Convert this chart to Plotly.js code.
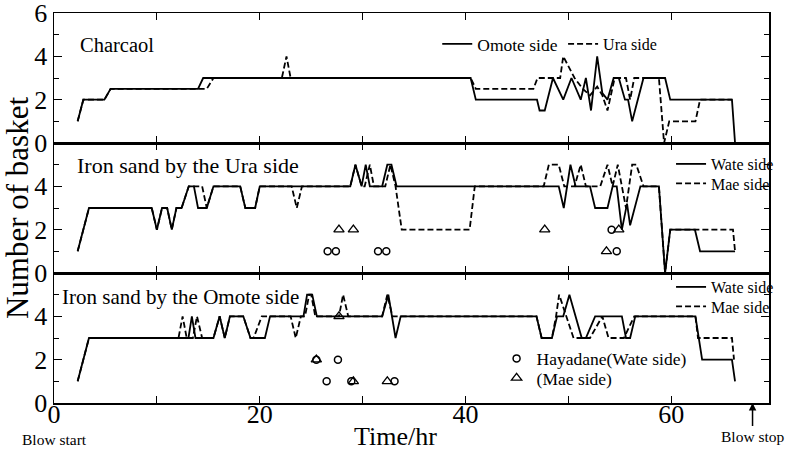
<!DOCTYPE html>
<html>
<head>
<meta charset="utf-8">
<script src="https://cdn.plot.ly/plotly-3.0.1.min.js"></script>
<style>html,body{margin:0;padding:0;background:#fff}#chart{width:800px;height:450px}</style>
</head>
<body>
<div id="chart"></div>
<script>
// ---------- Charcoal panel (top) ----------
const charOmoteX = [2.3, 2.85, 4.9, 5.5, 14.0, 14.5, 40.5, 41.0, 46.95, 47.2, 47.7, 48.5, 49.5, 50.3, 51.2, 51.7, 52.2, 52.8, 53.3, 53.8, 54.4, 54.9, 55.5, 55.8, 56.2, 57.3, 59.4, 59.9, 65.9, 66.2];
const charOmoteY = [1, 2, 2, 2.5, 2.5, 3, 3, 2, 2, 1.5, 1.5, 3, 2, 3, 2, 3, 1.5, 4, 2.3, 2, 3, 3, 2, 2, 1, 3, 3, 2, 2, 0];
const charUraX = [2.3, 2.85, 4.9, 5.5, 14.85, 15.5, 22.15, 22.6, 23.0, 40.5, 41.0, 46.6, 47.0, 49.2, 49.5, 50.6, 51.4, 52.1, 52.8, 53.3, 53.8, 54.5, 55.6, 56.0, 56.4, 58.8, 59.3, 59.8, 62.35, 62.8, 65.9];
const charUraY = [1, 2, 2, 2.5, 2.5, 3, 3, 4, 3, 3, 2.5, 2.5, 3, 3, 4, 3, 2.5, 2.2, 2.6, 2.2, 1.5, 3, 3, 2, 3, 3, 0, 1, 1, 2, 2];

// ---------- Iron sand by the Ura side (middle) ----------
const uraWateX = [2.3, 3.4, 9.5, 10.0, 10.5, 11.0, 11.45, 11.9, 12.4, 13.1, 13.6, 14.0, 14.85, 15.5, 18.1, 18.6, 19.55, 20.0, 28.8, 29.3, 29.9, 30.3, 30.7, 31.9, 32.4, 32.8, 33.3, 49.06, 49.55, 50.2, 50.7, 52.1, 52.6, 53.8, 54.3, 54.7, 55.2, 55.7, 56.0, 57.0, 58.8, 59.4, 59.9, 62.3, 62.8, 66.2];
const uraWateY = [1, 3, 3, 2, 3, 3, 2, 3, 3, 4, 4, 3, 3, 4, 4, 3, 3, 4, 4, 5, 4, 5, 4, 4, 5, 5, 4, 4, 3, 5, 4, 4, 3, 3, 4, 4, 2, 3.2, 2.2, 4, 4, 0, 2, 2, 1, 1];
const uraMaeX = [2.3, 3.4, 9.5, 10.0, 10.5, 11.0, 11.45, 11.9, 12.4, 13.1, 14.4, 14.85, 15.5, 18.1, 18.6, 19.55, 20.0, 23.1, 23.6, 24.1, 28.8, 29.3, 29.9, 30.2, 30.7, 31.1, 32.2, 32.7, 33.2, 33.8, 40.4, 40.9, 47.6, 48.1, 49.06, 49.6, 50.6, 51.2, 51.7, 53.1, 53.8, 54.3, 54.8, 55.6, 56.2, 56.6, 57.3, 58.8, 59.4, 59.9, 66.0, 66.2];
const uraMaeY = [1, 3, 3, 2, 3, 3, 2, 3, 3, 4, 4, 3, 4, 4, 3, 3, 4, 4, 3, 4, 4, 5, 4, 4, 5, 4, 4, 5, 4, 2, 2, 4, 4, 5, 5, 4, 4, 5, 4, 4, 5, 4, 5, 3, 5, 5, 4, 4, 0, 2, 2, 1];
const uraHayaWateX = [26.6, 27.4, 31.5, 32.3, 54.2, 54.7];
const uraHayaWateY = [1, 1, 1, 1, 2, 1];
const uraHayaMaeX = [27.7, 29.1, 47.7, 54.9, 53.7];
const uraHayaMaeY = [2, 2, 2, 2, 1];

// ---------- Iron sand by the Omote side (bottom) ----------
const omoWateX = [2.3, 3.4, 13.07, 13.4, 13.75, 15.5, 16.1, 16.6, 17.1, 18.4, 19.1, 20.5, 21.0, 24.25, 24.6, 25.1, 25.55, 31.9, 32.5, 33.2, 33.7, 46.9, 47.4, 48.4, 48.9, 49.5, 50.1, 51.3, 51.7, 52.6, 55.2, 55.6, 56.0, 56.5, 62.35, 63.0, 65.9, 66.2];
const omoWateY = [1, 3, 3, 4, 3, 3, 4, 3, 4, 4, 3, 3, 4, 4, 5, 5, 4, 4, 5, 3, 4, 4, 3, 3, 4, 4, 5, 3, 3, 4, 4, 3, 3, 4, 4, 2, 2, 1];
const omoMaeX = [2.3, 3.4, 12.1, 12.5, 12.9, 13.5, 13.9, 14.4, 15.5, 16.1, 16.6, 17.1, 18.4, 19.1, 19.4, 20.2, 23.0, 23.5, 24.0, 24.4, 24.8, 25.0, 25.4, 27.7, 28.1, 28.6, 31.9, 32.4, 32.9, 46.9, 47.4, 48.4, 48.8, 49.1, 50.5, 52.1, 53.3, 53.9, 55.4, 56.4, 62.35, 62.6, 65.9, 66.1];
const omoMaeY = [1, 3, 3, 4, 3, 3, 4, 3, 3, 4, 3, 4, 4, 3, 3, 4, 4, 3, 4, 4, 5, 5, 4, 4, 5, 4, 4, 5, 4, 4, 3, 3, 4, 5, 3, 3, 4, 3, 3, 4, 4, 3, 3, 2];
const omoHayaWateX = [25.5, 27.6, 26.5, 28.9, 33.1];
const omoHayaWateY = [2, 2, 1, 1, 1];
const omoHayaMaeX = [25.5, 27.7, 29.1, 32.4];
const omoHayaMaeY = [2, 4, 1, 1];

// ---------- Axis ticks ----------
const xTickVals = [0, 10, 20, 30, 40, 50, 60];
const xTickText = ['0', '', '20', '', '40', '', '60'];
const yTickVals = [0, 2, 4, 6];
const yTickTextTop = ['0', '2', '4', '6'];
const yTickTextLow = ['0', '2', '4', ''];

const FONT = 'Liberation Serif, Times New Roman, serif';
const solid = {color: '#000', width: 1.8};
const dashed = {color: '#000', width: 1.8, dash: '6px,3px'};
const circ = {symbol: 'circle-open', size: 7, color: '#000', line: {width: 1.5, color: '#000'}};
const tri = {symbol: 'triangle-up-open', size: 9, color: '#000', line: {width: 1.3, color: '#000'}};

const traces = [
  {x: charOmoteX, y: charOmoteY, xaxis: 'x3', yaxis: 'y3', mode: 'lines', line: solid, name: 'Omote side', legend: 'legend'},
  {x: charUraX, y: charUraY, xaxis: 'x3', yaxis: 'y3', mode: 'lines', line: dashed, name: 'Ura side', legend: 'legend8'},
  {x: uraWateX, y: uraWateY, xaxis: 'x2', yaxis: 'y2', mode: 'lines', line: solid, name: 'Wate side', legend: 'legend2'},
  {x: uraMaeX, y: uraMaeY, xaxis: 'x2', yaxis: 'y2', mode: 'lines', line: dashed, name: 'Mae side', legend: 'legend3'},
  {x: uraHayaWateX, y: uraHayaWateY, xaxis: 'x2', yaxis: 'y2', mode: 'markers', marker: circ, showlegend: false},
  {x: uraHayaMaeX, y: uraHayaMaeY, xaxis: 'x2', yaxis: 'y2', mode: 'markers', marker: tri, showlegend: false},
  {x: omoWateX, y: omoWateY, xaxis: 'x', yaxis: 'y', mode: 'lines', line: solid, name: 'Wate side', legend: 'legend4'},
  {x: omoMaeX, y: omoMaeY, xaxis: 'x', yaxis: 'y', mode: 'lines', line: dashed, name: 'Mae side', legend: 'legend5'},
  {x: omoHayaWateX, y: omoHayaWateY, xaxis: 'x', yaxis: 'y', mode: 'markers', marker: circ, name: 'Hayadane(Wate side)', legend: 'legend6'},
  {x: omoHayaMaeX, y: omoHayaMaeY, xaxis: 'x', yaxis: 'y', mode: 'markers', marker: tri, name: '(Mae side)', legend: 'legend7'}
];

function xAx(anchor, labels) {
  return {
    domain: [0, 1], anchor: anchor, range: [0, 69.5],
    tickmode: 'array', tickvals: xTickVals, ticktext: xTickText,
    showticklabels: labels, ticks: 'inside', ticklen: 7, tickwidth: 1.2, tickcolor: '#000',
    ticklabeloverflow: 'allow', ticklabelstandoff: -13,
    showline: true, linecolor: '#000', linewidth: 1.5, mirror: 'ticks',
    showgrid: false, zeroline: false,
    tickfont: {family: FONT, size: 26, color: '#000'}
  };
}
function yAx(anchor, dom, text) {
  return {
    domain: dom, anchor: anchor, range: [0, 6],
    tickmode: 'array', tickvals: yTickVals, ticktext: text,
    ticks: 'inside', ticklen: 8, tickwidth: 1.2, tickcolor: '#000',
    ticklabeloverflow: 'allow',
    minor: {tickmode: 'array', tickvals: [1, 3, 5], ticks: 'inside', ticklen: 5, tickcolor: '#000', tickwidth: 1, showgrid: false},
    showline: true, linecolor: '#000', linewidth: 1.5, mirror: 'ticks',
    showgrid: false, zeroline: false,
    tickfont: {family: FONT, size: 26, color: '#000'}
  };
}

function leg(x, ypx, size) {
  return {bgcolor: 'rgba(0,0,0,0)', borderwidth: 0, font: {family: FONT, size: size || 17, color: '#000'},
          xref: 'paper', yref: 'paper', x: x, y: (403 - ypx) / 390, xanchor: 'left', yanchor: 'middle'};
}

const layout = {
  width: 800, height: 450,
  margin: {l: 54, r: 31, t: 13, b: 47},
  paper_bgcolor: '#fff', plot_bgcolor: '#fff',
  font: {family: FONT, color: '#000'},
  xaxis: xAx('y', true),
  xaxis2: xAx('y2', false),
  xaxis3: xAx('y3', false),
  yaxis: yAx('x', [0, 1/3], yTickTextLow),
  yaxis2: Object.assign(yAx('x2', [1/3, 2/3], yTickTextLow), {title: {text: 'Number of basket', font: {family: FONT, size: 31, color: '#000'}, standoff: 4}}),
  yaxis3: yAx('x3', [2/3, 1], yTickTextTop),
  legend: leg(0.536, 44, 17.5),
  legend8: leg(0.712, 44, 16),
  legend2: leg(0.863, 164, 16),
  legend3: leg(0.863, 183.5, 16),
  legend4: leg(0.863, 287, 16),
  legend5: leg(0.863, 306.5, 16),
  legend6: leg(0.619, 358.5, 17.5),
  legend7: leg(0.619, 378, 17.5),
  annotations: [
    {text: 'Charcaol', xref: 'paper', yref: 'paper', x: 0.034, y: 0.918, xanchor: 'left', yanchor: 'middle', showarrow: false, font: {family: FONT, size: 20.5, color: '#000'}},
    {text: 'Iron sand by the Ura side', xref: 'paper', yref: 'paper', x: 0.029, y: 0.608, xanchor: 'left', yanchor: 'middle', showarrow: false, font: {family: FONT, size: 22, color: '#000'}},
    {text: 'Iron sand by the Omote side', xref: 'paper', yref: 'paper', x: 0.009, y: 0.272, xanchor: 'left', yanchor: 'middle', showarrow: false, font: {family: FONT, size: 21, color: '#000'}},
    {text: 'Time/hr', xref: 'paper', yref: 'paper', x: 0.477, y: -0.087, xanchor: 'center', yanchor: 'middle', showarrow: false, font: {family: FONT, size: 26, color: '#000'}},
    {text: 'Blow start', xref: 'x', yref: 'paper', x: 0, y: -0.093, xanchor: 'center', yanchor: 'middle', showarrow: false, font: {family: FONT, size: 15.5, color: '#000'}},
    {text: 'Blow stop', xref: 'x', yref: 'y', x: 67.9, y: 0, showarrow: true, ax: 0, ay: 33, arrowhead: 2, arrowsize: 1, arrowwidth: 1.5, arrowcolor: '#000', font: {family: FONT, size: 15.5, color: '#000'}}
  ]
};

Plotly.newPlot('chart', traces, layout, {displayModeBar: false, staticPlot: true});
</script>
</body>
</html>
